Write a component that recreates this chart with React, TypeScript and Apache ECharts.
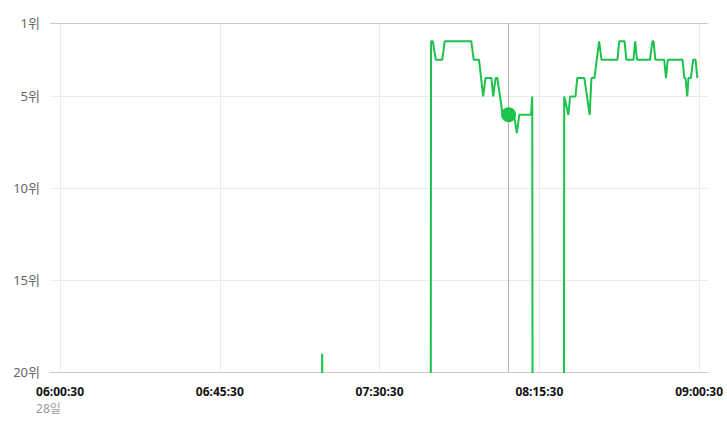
import React, { useEffect, useRef } from "react";
import * as echarts from "echarts";

// Rank value used for minutes where the keyword sat below the 20위 floor (drawn outside the plot)
const OFF_CHART = 40;

const times = [
  "07:13:50", "07:14:20", "07:14:50",
  "07:44:50", "07:45:00", "07:45:30", "07:46:20", "07:48:10", "07:48:50", "07:56:20", "07:57:00",
  "07:58:30", "07:59:40", "08:00:20", "08:02:00", "08:02:30", "08:03:10", "08:03:40", "08:05:10",
  "08:08:20", "08:09:10", "08:09:50", "08:13:10", "08:13:30", "08:13:40",
  "08:22:20", "08:22:30", "08:23:40", "08:24:10", "08:25:40", "08:26:10", "08:28:10", "08:29:40",
  "08:30:10", "08:31:00", "08:32:20", "08:33:00", "08:37:30", "08:38:00", "08:39:30", "08:40:00",
  "08:42:00", "08:42:30", "08:43:00", "08:46:40", "08:47:20", "08:47:40", "08:48:10", "08:50:40",
  "08:51:10", "08:51:40", "08:55:50", "08:56:20", "08:56:40", "08:57:10", "08:57:30", "08:58:10",
  "08:58:50", "08:59:30", "09:00:00",
];
const ranks = [
  OFF_CHART, 19, OFF_CHART,
  OFF_CHART, 2, 2, 3, 3, 2, 2, 3,
  3, 5, 4, 4, 5, 4, 4, 6,
  6, 7, 6, 6, 5, OFF_CHART,
  OFF_CHART, 5, 6, 5, 5, 4, 4, 6,
  4, 4, 2, 3, 3, 2, 2, 3,
  3, 2, 3, 3, 2, 2, 3, 3,
  4, 3, 3, 4, 4, 5, 4, 4,
  3, 3, 4,
];

const hoverTime = "08:06:50";
const hoverRank = 6;

const xTickLabels = ["06:00:30", "06:45:30", "07:30:30", "08:15:30", "09:00:30"];
const dateLabel = "28일";
const yTickValues = [1, 5, 10, 15, 20];
const xStart = "05:57:40";
const xEnd = "09:03:00";

const GREEN = "#1cc24c";

function toSec(t: string): number {
  const [h, m, s] = t.split(":").map(Number);
  return h * 3600 + m * 60 + s;
}
function pad(n: number) {
  return n < 10 ? "0" + n : "" + n;
}
function fmt(sec: number): string {
  const h = Math.floor(sec / 3600);
  const m = Math.floor((sec % 3600) / 60);
  const s = Math.round(sec % 60);
  return `${pad(h)}:${pad(m)}:${pad(s)}`;
}

export default function App() {
  const ref = useRef<HTMLDivElement>(null);
  useEffect(() => {
    document.body.style.margin = "0";
    const chart = echarts.init(ref.current!, null, { renderer: "svg" });
    const xTicks = xTickLabels.map(toSec);
    const fontFamily = "'Noto Sans', 'Noto Sans CJK KR', sans-serif";
    chart.setOption({
      animation: false,
      grid: { left: 50, right: 19, top: 23, bottom: 62 },
      xAxis: [
        {
          type: "value",
          min: toSec(xStart),
          max: toSec(xEnd),
          axisLine: { show: true, onZero: false, lineStyle: { color: "#cccccc", width: 1 } },
          axisTick: { show: false, customValues: xTicks },
          splitLine: { show: true, lineStyle: { color: "#ebebeb", width: 1 } },
          axisLabel: {
            customValues: xTicks,
            margin: 11,
            fontFamily,
            formatter: (v: number) =>
              v === xTicks[0] ? `{t|${fmt(v)}}\n{d|${dateLabel}}` : `{t|${fmt(v)}}`,
            rich: {
              t: { fontSize: 12, fontWeight: "bold", color: "#111", lineHeight: 16, fontFamily },
              d: { fontSize: 12, color: "#9a9a9a", lineHeight: 18, align: "left", fontFamily },
            },
          },
        },
        {
          type: "value",
          position: "top",
          min: toSec(xStart),
          max: toSec(xEnd),
          axisLine: { show: true, onZero: false, lineStyle: { color: "#cccccc", width: 1 } },
          axisTick: { show: false },
          axisLabel: { show: false },
          splitLine: { show: false },
        },
      ],
      yAxis: {
        type: "value",
        inverse: true,
        min: 1,
        max: 20,
        axisLine: { show: false },
        axisTick: { show: false, customValues: yTickValues },
        splitLine: { show: true, lineStyle: { color: "#ebebeb", width: 1 } },
        axisLabel: {
          customValues: yTickValues,
          margin: 10,
          fontSize: 13,
          color: "#666",
          fontFamily,
          formatter: (v: number) => `${v}위`,
        },
      },
      series: [
        {
          type: "line",
          data: times.map((t, i) => [toSec(t), ranks[i]]),
          showSymbol: false,
          symbol: "none",
          lineStyle: { color: GREEN, width: 2 },
          itemStyle: { color: GREEN },
          clip: true,
          silent: true,
          markLine: {
            silent: true,
            symbol: ["none", "none"],
            label: { show: false },
            lineStyle: { color: "#b0b0b0", width: 1, type: "solid" },
            data: [{ xAxis: toSec(hoverTime) }],
          },
        },
        {
          type: "scatter",
          data: [[toSec(hoverTime), hoverRank]],
          symbolSize: 15,
          itemStyle: { color: GREEN, opacity: 1 },
          silent: true,
          z: 5,
        },
      ],
    });
    return () => chart.dispose();
  }, []);
  return <div ref={ref} style={{ width: 727, height: 434 }} />;
}
